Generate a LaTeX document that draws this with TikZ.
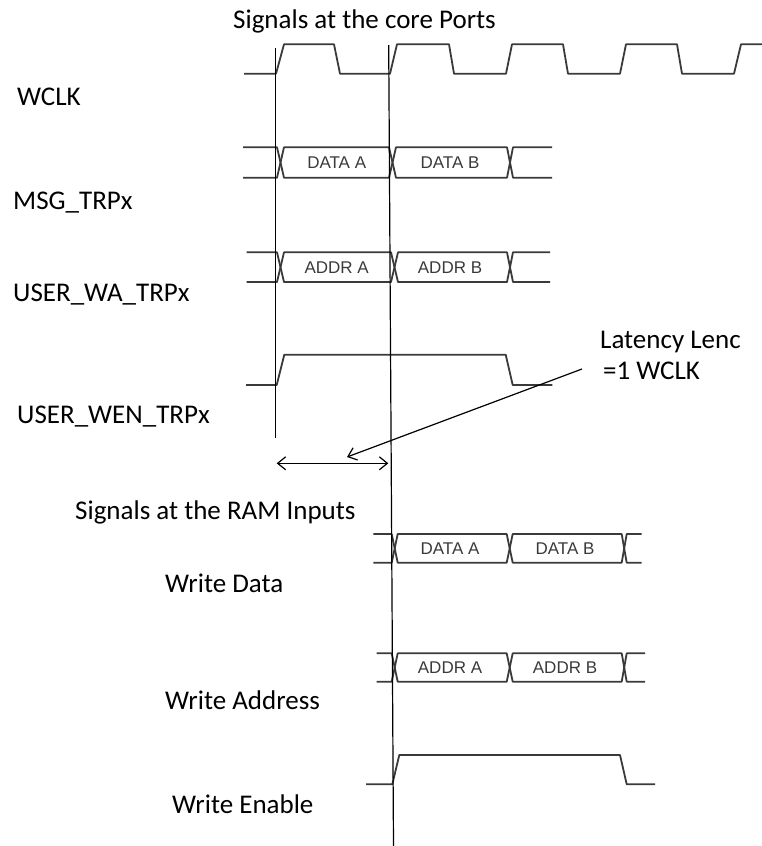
\documentclass[tikz,border=0pt]{standalone}
\usepackage{fontspec}
\setmainfont{Carlito}
\newfontfamily\arialfont{Liberation Sans}
\usetikzlibrary{arrows.meta}
\definecolor{WaveGray}{HTML}{3A3A3A}

\begin{document}
\begin{tikzpicture}[
  x=1pt, y=-1pt,
  font=\fontsize{27}{30}\selectfont,
  wave/.style={draw=WaveGray, line width=1.8pt, line join=round},
  marker/.style={draw=black, line width=1.2pt},
  lbl/.style={anchor=base west, inner sep=0pt},
  buslbl/.style={font=\arialfont\fontsize{17}{19}\selectfont, text=WaveGray, inner sep=0pt},
  ptr/.style={draw=black, line width=1.2pt, -{Straight Barb[length=8pt, width=13pt]}},
  span/.style={draw=black, line width=1.2pt, {Straight Barb[length=8pt, width=13pt]}-{Straight Barb[length=8pt, width=13pt]}}]
\useasboundingbox (0,0) rectangle (762,846);

% titles and signal names
\node[lbl] (coreT) at (233,28) {Signals at the core Ports};
\node[lbl] (wclk) at (17,105) {WCLK};
\node[lbl] (msg) at (13,209) {MSG\_TRPx};
\node[lbl] (wa) at (13,301) {USER\_WA\_TRPx};
\node[lbl] (wen) at (17,423) {USER\_WEN\_TRPx};
\node[lbl] (latA) at (600,348) {Latency Lenc};
\node[lbl] (latB) at (603,379) {=1 WCLK};
\node[lbl] (ramT) at (75,519) {Signals at the RAM Inputs};
\node[lbl] (wdata) at (165,592) {Write Data};
\node[lbl] (waddr) at (165,709) {Write Address};
\node[lbl] (wenab) at (172,813) {Write Enable};

% clock
\draw[wave] (244,73.7) -- (276,73.7) -- (284,44.3) -- (334,44.3) -- (340,73.7)
  -- (390,73.7) -- (397,44.3) -- (449,44.3) -- (454,73.7)
  -- (506,73.7) -- (512,44.3) -- (563,44.3) -- (568,73.7)
  -- (620,73.7) -- (626,44.3) -- (677,44.3) -- (682,73.7)
  -- (734,73.7) -- (741,44.3) -- (762,44.3);

% MSG_TRPx
\draw[wave] (243,147.3) -- (277,147.3) -- (280.5,162.5) -- (277,177.7) -- (243,177.7);
\draw[wave] (280.5,162.5) -- (284,147.3) -- (389,147.3) -- (392.5,162.5) -- (389,177.7) -- (284,177.7) -- cycle;
\draw[wave] (392.5,162.5) -- (396,147.3) -- (507,147.3) -- (510,162.5) -- (507,177.7) -- (396,177.7) -- cycle;
\draw[wave] (552,147.3) -- (513,147.3) -- (510,162.5) -- (513,177.7) -- (552,177.7);
\node[buslbl] (msgA) at (336.7,162.5) {DATA A};
\node[buslbl] (msgB) at (450,162.5) {DATA B};

% USER_WA_TRPx
\draw[wave] (246.7,252.3) -- (277,252.3) -- (280.5,267.2) -- (277,282) -- (246.7,282);
\draw[wave] (280.5,267.2) -- (284,252.3) -- (391,252.3) -- (394.5,267.2) -- (391,282) -- (284,282) -- cycle;
\draw[wave] (394.5,267.2) -- (398,252.3) -- (507,252.3) -- (510,267.2) -- (507,282) -- (398,282) -- cycle;
\draw[wave] (550,252.3) -- (513,252.3) -- (510,267.2) -- (513,282) -- (550,282);
\node[buslbl] (waA) at (336.7,267.2) {ADDR A};
\node[buslbl] (waB) at (450,267.2) {ADDR B};

% USER_WEN_TRPx
\draw[wave] (246,385) -- (276.7,385) -- (284.3,354.7) -- (505.7,354.7) -- (512.7,385) -- (552.3,385);

% Write Data
\draw[wave] (373.3,534) -- (391.7,534) -- (394.7,548.4) -- (391.7,562.7) -- (373.3,562.7);
\draw[wave] (394.7,548.4) -- (397.7,534) -- (506.7,534) -- (509.7,548.4) -- (506.7,562.7) -- (397.7,562.7) -- cycle;
\draw[wave] (509.7,548.4) -- (512.7,534) -- (621.7,534) -- (624.2,548.4) -- (621.7,562.7) -- (512.7,562.7) -- cycle;
\draw[wave] (641.7,534) -- (626.7,534) -- (624.2,548.4) -- (626.7,562.7) -- (641.7,562.7);
\node[buslbl] (wdA) at (450,548.4) {DATA A};
\node[buslbl] (wdB) at (565,548.4) {DATA B};

% Write Address
\draw[wave] (376.7,653.3) -- (391.7,653.3) -- (394.7,667.5) -- (391.7,681.7) -- (376.7,681.7);
\draw[wave] (394.7,667.5) -- (397.7,653.3) -- (506.7,653.3) -- (509.7,667.5) -- (506.7,681.7) -- (397.7,681.7) -- cycle;
\draw[wave] (509.7,667.5) -- (512.7,653.3) -- (621.7,653.3) -- (624.2,667.5) -- (621.7,681.7) -- (512.7,681.7) -- cycle;
\draw[wave] (645,653.3) -- (626.7,653.3) -- (624.2,667.5) -- (626.7,681.7) -- (645,681.7);
\node[buslbl] (waddrA) at (450,667.5) {ADDR A};
\node[buslbl] (waddrB) at (565,667.5) {ADDR B};

% Write Enable
\draw[wave] (366,784.3) -- (392.3,784.3) -- (399.3,755) -- (620,755) -- (626.7,784.3) -- (655,784.3);

% edge markers
\draw[marker] (275.3,48) -- (275.3,438);
\draw[marker] (388.7,45) -- (393.5,846);

% latency
\coordinate (latStart) at (582,369);
\coordinate (latTip) at (347,457);
\coordinate (spanL) at (276.7,463.3);
\coordinate (spanR) at (388.3,463.3);
\draw[ptr] (latStart) -- (latTip);
\draw[span] (spanL) -- (spanR);
\end{tikzpicture}
\end{document}
